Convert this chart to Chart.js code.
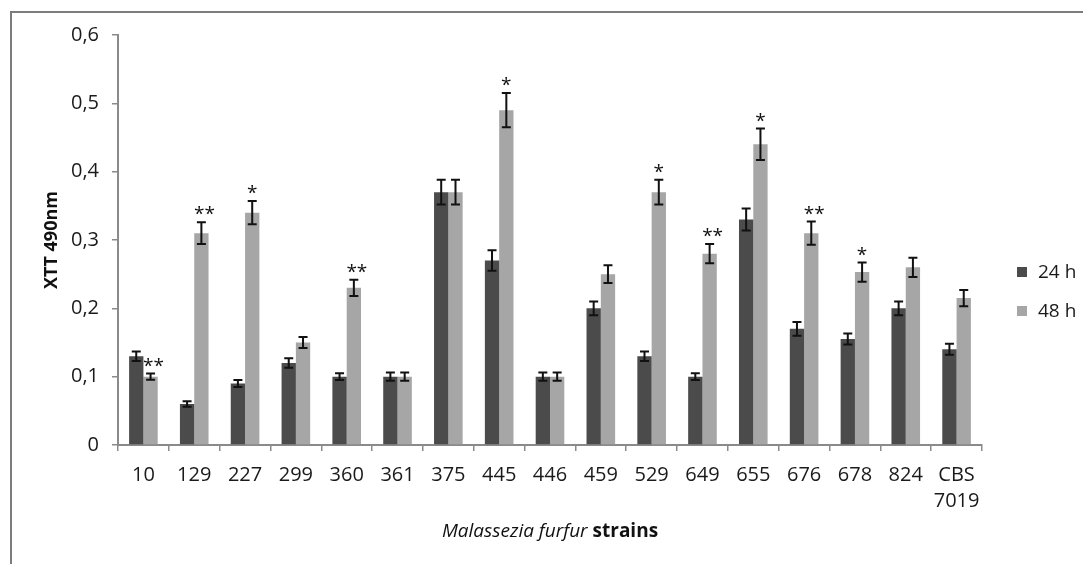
<!DOCTYPE html>
<html lang="en">
<head>
<meta charset="UTF-8">
<title>XTT 490nm - Malassezia furfur strains</title>
<script src="https://cdn.jsdelivr.net/npm/chart.js"></script>
<style>
  html, body { margin: 0; padding: 0; background: #fff; overflow: hidden; }
  .frame { position: absolute; left: 10px; top: 11px; width: 1100px; height: 600px; border: 2px solid #7c7c7c; }
  .wrap { position: absolute; left: 0; top: 0; width: 1083px; height: 564px; }
</style>
</head>
<body>
<div class="frame"></div>
<div class="wrap"><canvas id="xttChart" width="1083" height="564"></canvas></div>
<script>
// data
const strains = ['10', '129', '227', '299', '360', '361', '375', '445', '446', '459', '529', '649', '655', '676', '678', '824', ['CBS', '7019']];
const xtt24 = [0.13, 0.06, 0.09, 0.12, 0.10, 0.10, 0.37, 0.27, 0.10, 0.20, 0.13, 0.10, 0.33, 0.17, 0.155, 0.20, 0.14];
const err24 = [0.007, 0.004, 0.005, 0.007, 0.005, 0.006, 0.018, 0.015, 0.006, 0.010, 0.007, 0.005, 0.016, 0.010, 0.008, 0.010, 0.008];
const xtt48 = [0.10, 0.31, 0.34, 0.15, 0.23, 0.10, 0.37, 0.49, 0.10, 0.25, 0.37, 0.28, 0.44, 0.31, 0.253, 0.26, 0.215];
const err48 = [0.0045, 0.016, 0.017, 0.008, 0.012, 0.006, 0.018, 0.025, 0.006, 0.013, 0.018, 0.014, 0.023, 0.017, 0.014, 0.014, 0.012];
const signif48 = ['**', '**', '*', '', '**', '', '', '*', '', '', '*', '**', '*', '**', '*', '', ''];
const yTickValues = [0, 0.1, 0.2, 0.3, 0.4, 0.5, 0.6];
const yTickLabels = ['0', '0,1', '0,2', '0,3', '0,4', '0,5', '0,6'];

const FONT = '"Open Sans", "DejaVu Sans", sans-serif';
const errors = [err24, err48];

// error bars + asterisks
const errorBars = {
    id: 'errorBars',
    afterDatasetsDraw(chart) {
        const ctx = chart.ctx;
        const y = chart.scales.y;
        ctx.save();
        ctx.strokeStyle = '#111';
        ctx.lineWidth = 2;
        chart.data.datasets.forEach((ds, di) => {
            const meta = chart.getDatasetMeta(di);
            meta.data.forEach((bar, i) => {
                const v = ds.data[i], e = errors[di][i];
                const yt = y.getPixelForValue(v + e);
                const yb = y.getPixelForValue(v - e);
                ctx.beginPath();
                ctx.moveTo(bar.x, yt); ctx.lineTo(bar.x, yb);
                ctx.moveTo(bar.x - 4.5, yt); ctx.lineTo(bar.x + 4.5, yt);
                ctx.moveTo(bar.x - 4.5, yb); ctx.lineTo(bar.x + 4.5, yb);
                ctx.stroke();
                if (di === 1 && signif48[i]) {
                    ctx.fillStyle = '#111';
                    ctx.font = '19px ' + FONT;
                    ctx.textAlign = 'center';
                    ctx.textBaseline = 'alphabetic';
                    const shift = signif48[i].length > 1 ? 3 : 0;
                    ctx.fillText(signif48[i], bar.x + shift, yt - 2);
                }
            });
        });
        ctx.restore();
    }
};

// legend on the right and the mixed-style x title
const extras = {
    id: 'extras',
    afterDraw(chart) {
        const ctx = chart.ctx;
        const a = chart.chartArea;
        ctx.save();
        const lx = a.right + 35;
        const rows = [a.top + 237, a.top + 276];
        chart.data.datasets.forEach((ds, i) => {
            ctx.fillStyle = ds.backgroundColor;
            ctx.fillRect(lx, rows[i] - 5, 10, 10);
            ctx.fillStyle = '#1a1a1a';
            ctx.font = '19px ' + FONT;
            ctx.textAlign = 'left';
            ctx.textBaseline = 'middle';
            ctx.fillText(ds.label, lx + 21, rows[i] + 1);
        });

        const part1 = 'Malassezia furfur ';
        const part2 = 'strains';
        const f1 = 'italic 19px ' + FONT;
        const f2 = 'bold 19px ' + FONT;
        ctx.font = f1; const w1 = ctx.measureText(part1).width;
        ctx.font = f2; const w2 = ctx.measureText(part2).width;
        const cx = (a.left + a.right) / 2;
        const x0 = cx - (w1 + w2) / 2;
        ctx.textAlign = 'left';
        ctx.textBaseline = 'middle';
        ctx.fillStyle = '#111';
        ctx.font = f1; ctx.fillText(part1, x0, 532);
        ctx.font = f2; ctx.fillText(part2, x0 + w1, 532);
        ctx.restore();
    }
};

new Chart(document.getElementById('xttChart'), {
    type: 'bar',
    data: {
        labels: strains,
        datasets: [
            { label: '24 h', data: xtt24, backgroundColor: '#4b4b4b' },
            { label: '48 h', data: xtt48, backgroundColor: '#a6a6a6' }
        ]
    },
    options: {
        responsive: false,
        animation: false,
        events: [],
        layout: { padding: { left: 0, top: 35, right: 101, bottom: 0 } },
        datasets: { bar: { categoryPercentage: 0.563, barPercentage: 1 } },
        plugins: { legend: { display: false }, tooltip: { enabled: false } },
        scales: {
            x: {
                afterFit(scale) { scale.height = 119; },
                grid: { offset: true, drawOnChartArea: false, tickLength: 6, color: '#8a8a8a', lineWidth: 1.5 },
                border: { color: '#8a8a8a', width: 2 },
                ticks: { color: '#1a1a1a', padding: 11, font: { family: FONT, size: 20, lineHeight: 1.3 }, maxRotation: 0, autoSkip: false }
            },
            y: {
                min: 0, max: 0.6,
                afterFit(scale) { scale.width = 118; },
                afterBuildTicks(scale) { scale.ticks = yTickValues.map(v => ({ value: v })); },
                grid: { drawOnChartArea: false, tickLength: 6, color: '#8a8a8a', lineWidth: 1.5 },
                border: { color: '#8a8a8a', width: 2 },
                ticks: {
                    color: '#1a1a1a', padding: 13, font: { family: FONT, size: 20 },
                    callback: (v) => yTickLabels[yTickValues.indexOf(Math.round(v * 10) / 10)]
                },
                title: { display: true, text: 'XTT 490nm', color: '#111', font: { family: FONT, size: 18, weight: 'bold' }, padding: { top: 41, bottom: 0 } }
            }
        }
    },
    plugins: [errorBars, extras]
});
</script>
</body>
</html>
